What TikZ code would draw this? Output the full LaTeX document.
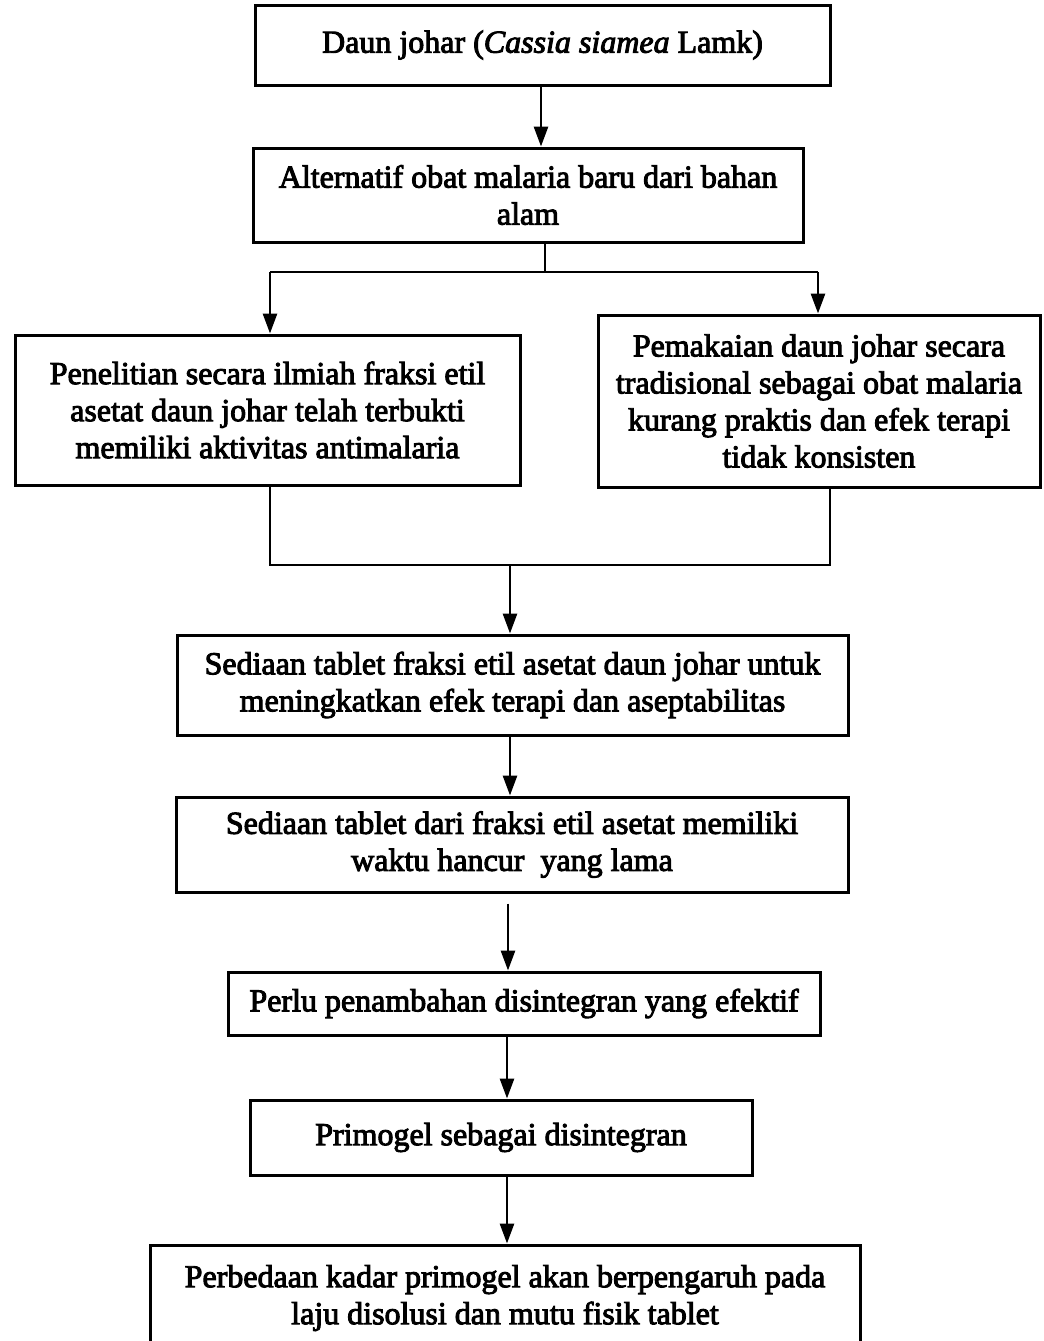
\documentclass[tikz,border=0pt]{standalone}
\usepackage{fontspec}
\setmainfont[FakeBold=3,ItalicFeatures={FakeBold=3}]{Liberation Serif}
\usetikzlibrary{arrows.meta}
\begin{document}
\begin{tikzpicture}[x=0.5pt,y=-0.5pt,
  box/.style={draw,line width=1.5pt,rectangle,inner sep=0pt,align=center,
    font=\fontsize{16}{18.5}\selectfont},
  conn/.style={line width=1.4pt},
  arr/.style={line width=1.4pt,-{Triangle[length=10pt,width=7pt]}}]
\useasboundingbox (0,0) rectangle (1044,1341);
\node[box,minimum width=575*0.5pt,minimum height=80*0.5pt] (b1) at (542.5,45) {Daun johar (\textit{Cassia siamea} Lamk)};
\node[box,minimum width=550*0.5pt,minimum height=94*0.5pt] (b2) at (528,195) {Alternatif obat malaria baru dari bahan\\alam};
\node[box,minimum width=505*0.5pt,minimum height=150*0.5pt] (b3) at (267.5,410) {Penelitian secara ilmiah fraksi etil\\asetat daun johar telah terbukti\\memiliki aktivitas antimalaria};
\node[box,minimum width=442*0.5pt,minimum height=172*0.5pt] (b4) at (819,401) {Pemakaian daun johar secara\\tradisional sebagai obat malaria\\kurang praktis dan efek terapi\\tidak konsisten};
\node[box,minimum width=671*0.5pt,minimum height=100*0.5pt] (b5) at (512.5,685) {Sediaan tablet fraksi etil asetat daun johar untuk\\meningkatkan efek terapi dan aseptabilitas};
\node[box,minimum width=672*0.5pt,minimum height=95*0.5pt] (b6) at (512,844.5) {Sediaan tablet dari fraksi etil asetat memiliki\\waktu hancur\ \ yang lama};
\node[box,minimum width=592*0.5pt,minimum height=63*0.5pt] (b7) at (524,1003.5) {Perlu penambahan disintegran yang efektif};
\node[box,minimum width=502*0.5pt,minimum height=75*0.5pt] (b8) at (501,1137.5) {Primogel sebagai disintegran};
\node[box,minimum width=710*0.5pt,minimum height=106*0.5pt] (b9) at (505,1298) {Perbedaan kadar primogel akan berpengaruh pada\\laju disolusi dan mutu fisik tablet};
\coordinate (x1) at (541,0);
\coordinate (j1) at (545,272);
\coordinate (L) at (270,0);
\coordinate (R) at (818,0);
\coordinate (R2) at (830,0);
\coordinate (j2) at (510,565);
\coordinate (x6) at (508,0);
\coordinate (x7) at (507,0);
\draw[arr] (b1.south -| x1) -- (b2.north -| x1);
\draw[conn] (b2.south -| j1) -- (j1);
\draw[conn] (L |- j1) -- (R |- j1);
\draw[arr] (L |- j1) -- (L |- b3.north);
\draw[arr] (R |- j1) -- (R |- b4.north);
\draw[conn] (L |- b3.south) -- (L |- j2) -- (R2 |- j2) -- (R2 |- b4.south);
\draw[arr] (j2) -- (j2 |- b5.north);
\draw[arr] (b5.south -| j2) -- (b6.north -| j2);
\draw[arr] ([yshift=-5pt]b6.south -| x6) -- (b7.north -| x6);
\draw[arr] (b7.south -| x7) -- (b8.north -| x7);
\draw[arr] (b8.south -| x7) -- (b9.north -| x7);
\end{tikzpicture}
\end{document}
